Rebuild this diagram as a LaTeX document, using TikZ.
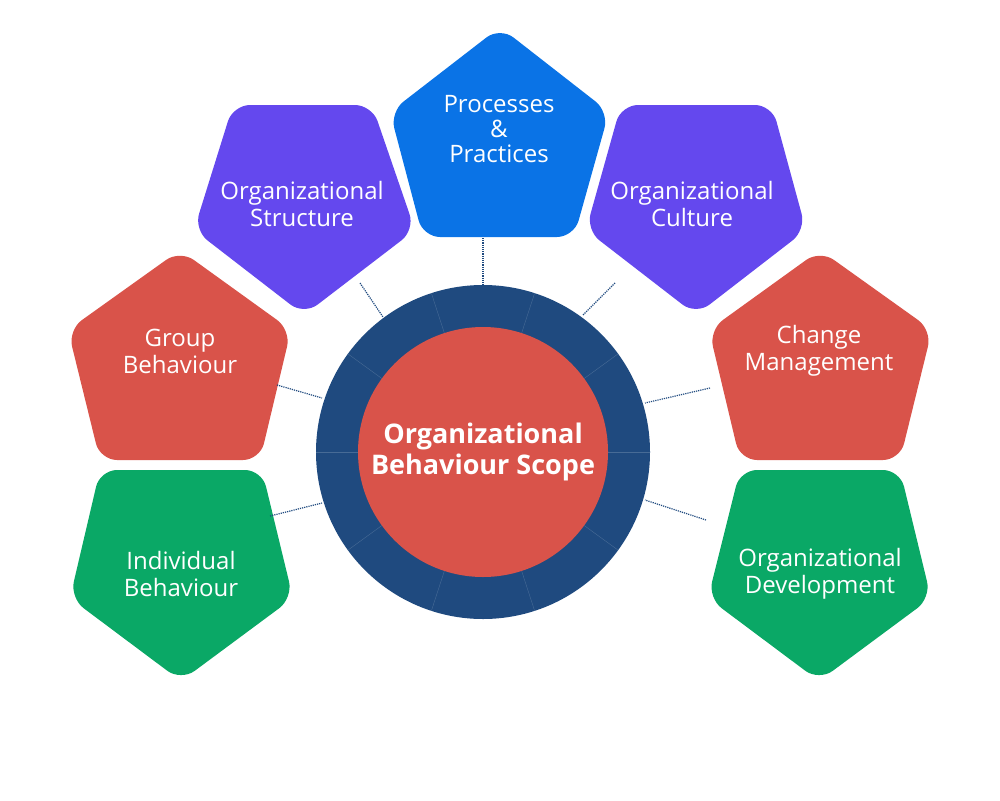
\documentclass[tikz,border=0pt]{standalone}
\usepackage{fontspec}
\setmainfont{Open Sans}
\usetikzlibrary{calc}
\begin{document}
\begin{tikzpicture}[x=1pt,y=-1pt,
  pent/.style={rounded corners=17pt},
  lbl/.style={text=white,font=\fontsize{24}{27}\selectfont,align=center},
  conn/.style={draw=ringc,densely dotted,line width=1.2pt}]
\definecolor{ringc}{HTML}{1F4A7F}
\definecolor{redc}{HTML}{D9534A}
\definecolor{purp}{HTML}{6448EE}
\definecolor{bluec}{HTML}{0A73E6}
\definecolor{greenc}{HTML}{0AA866}
\useasboundingbox (0,0) rectangle (1000,800);
% pentagons
\fill[bluec,pent] (500,27) -- (609,112) -- (574,237) -- (423,237) -- (390,112) -- cycle;
\fill[purp,pent] (233,105) -- (372,105) -- (415,230) -- (304,315) -- (194,230) -- cycle;
\fill[purp,pent] (621,105) -- (772,105) -- (806,230) -- (696,315) -- (586,230) -- cycle;
\fill[redc,pent] (180,250) -- (291,330) -- (260,460) -- (100,460) -- (68,330) -- cycle;
\fill[redc,pent] (820,250) -- (932,330) -- (900,460) -- (740,460) -- (709,330) -- cycle;
\fill[greenc,pent] (100,470) -- (262,470) -- (293,598) -- (181,681) -- (70,598) -- cycle;
\fill[greenc,pent] (740,470) -- (900,470) -- (931,598) -- (819,681) -- (708,598) -- cycle;
% labels
\node[lbl] (pp) at (499,129) {Processes\\[-2pt]\&\\[-2pt]Practices};
\node[lbl] (os) at (302,204) {Organizational\\Structure};
\node[lbl] (oc) at (692,204) {Organizational\\Culture};
\node[lbl] (gb) at (180,351) {Group\\Behaviour};
\node[lbl] (cm) at (819,351) {Change\\Management};
\node[lbl] (ib) at (181,574) {Individual\\Behaviour};
\node[lbl] (od) at (820,574) {Organizational\\Development};
% ring
\coordinate (c) at (483,452);
\fill[ringc] (c) circle (167);
\foreach \a in {0,36,72,108,144,180,216,252,288,324}
  \draw[white!18!ringc,line width=0.4pt] ($(c)+(\a:125)$) -- ($(c)+(\a:167)$);
\fill[redc] (c) circle (125);
\node[text=white,font=\bfseries\fontsize{27}{31}\selectfont,align=center] (ctr) at (c) {Organizational\\Behaviour Scope};
% connectors
\coordinate (a1) at (483,238); \coordinate (b1) at (483,285);
\coordinate (a2) at (360,283); \coordinate (b2) at (383,317);
\coordinate (a3) at (615,283); \coordinate (b3) at (583,315);
\coordinate (a4) at (277,385); \coordinate (b4) at (322,398);
\coordinate (a5) at (710,388); \coordinate (b5) at (645,403);
\coordinate (a6) at (270,516); \coordinate (b6) at (322,503);
\coordinate (a7) at (706,520); \coordinate (b7) at (645,500);
\foreach \i in {1,...,7} \draw[conn] (a\i) -- (b\i);
\end{tikzpicture}
\end{document}
